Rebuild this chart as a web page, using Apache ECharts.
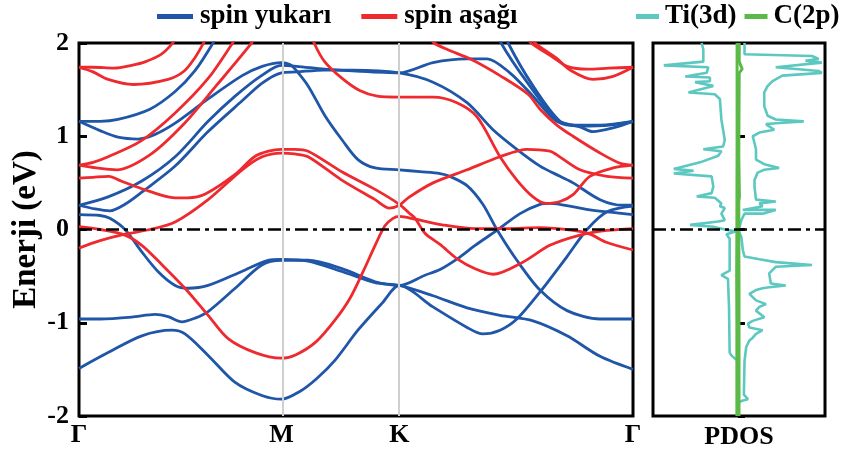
<!DOCTYPE html>
<html><head><meta charset="utf-8">
<script src="https://cdn.jsdelivr.net/npm/echarts@6/dist/echarts.min.js"></script>
<style>html,body{margin:0;padding:0;background:#fff}#c{width:841px;height:451px}</style>
</head><body><div id="c"></div>
<script>
// k-path positions (units of 2π/a) and labels
const kTicks = [0, 0.577, 0.913, 1.579];
const kLabels = ['Γ', 'M', 'K', 'Γ'];

// spin up (blue) bands: [k, E(eV)]
const upA = [[0,1.16],[0.06,1.16],[0.111,1.18],[0.202,1.29],[0.274,1.48],[0.330,1.70],[0.382,2.0],[0.40,2.14]];
const upB = [[0,1.16],[0.060,1.06],[0.111,0.99],[0.168,0.97],[0.217,1.02],[0.274,1.14],[0.368,1.40],[0.465,1.65],[0.522,1.75],[0.577,1.79],[0.601,1.77],[0.616,1.72],[0.653,1.54],[0.701,1.22],[0.750,0.96],[0.795,0.75],[0.844,0.66],[0.913,0.64],[0.972,0.62],[1.029,0.60],[1.057,0.57],[1.106,0.47],[1.151,0.27],[1.191,0.0],[1.248,-0.33],[1.314,-0.65],[1.391,-0.87],[1.485,-0.96],[1.579,-0.96]];
const upC = [[0,0.26],[0.083,0.35],[0.179,0.52],[0.274,0.78],[0.368,1.16],[0.445,1.43],[0.520,1.65],[0.577,1.76],[0.62,1.75],[0.70,1.72],[0.78,1.70],[0.913,1.68],[1.009,1.79],[1.106,1.83],[1.163,1.83],[1.228,1.68],[1.294,1.43],[1.362,1.16],[1.428,1.11],[1.513,1.12],[1.579,1.16]];
const upD = [[0,0.26],[0.046,0.22],[0.088,0.20],[0.131,0.27],[0.179,0.40],[0.274,0.68],[0.368,1.05],[0.465,1.38],[0.522,1.57],[0.577,1.68],[0.62,1.69],[0.70,1.71],[0.78,1.71],[0.913,1.68],[1.009,1.58],[1.106,1.36],[1.180,1.07],[1.248,0.86],[1.314,0.68],[1.371,0.57],[1.408,0.50],[1.485,0.32],[1.550,0.26],[1.579,0.26]];
const upE = [[0,0.16],[0.060,0.15],[0.088,0.12],[0.131,0.0],[0.179,-0.24],[0.225,-0.45],[0.274,-0.60],[0.311,-0.63],[0.368,-0.60],[0.464,-0.45],[0.539,-0.33],[0.577,-0.32],[0.653,-0.34],[0.749,-0.45],[0.844,-0.57],[0.913,-0.60],[1.009,-0.71],[1.106,-0.84],[1.200,-0.92],[1.294,-0.98],[1.391,-1.14],[1.485,-1.36],[1.579,-1.50]];
const upF = [[0,-0.96],[0.060,-0.96],[0.150,-0.94],[0.217,-0.91],[0.254,-0.935],[0.293,-0.99],[0.331,-0.95],[0.368,-0.88],[0.445,-0.63],[0.521,-0.38],[0.577,-0.33],[0.653,-0.33],[0.749,-0.42],[0.844,-0.56],[0.913,-0.60],[0.986,-0.49],[1.029,-0.43],[1.080,-0.31],[1.129,-0.17],[1.191,-0.01],[1.257,0.17],[1.314,0.27],[1.342,0.28],[1.414,0.24],[1.456,0.21],[1.579,0.16]];
const upG = [[0,-1.49],[0.083,-1.32],[0.179,-1.14],[0.265,-1.08],[0.302,-1.12],[0.368,-1.35],[0.445,-1.64],[0.521,-1.78],[0.577,-1.82],[0.628,-1.74],[0.677,-1.60],[0.730,-1.40],[0.795,-1.08],[0.864,-0.79],[0.913,-0.60],[1.009,-0.83],[1.106,-1.05],[1.151,-1.12],[1.200,-1.08],[1.248,-0.96],[1.314,-0.67],[1.391,-0.29],[1.448,0.0],[1.505,0.19],[1.579,0.25]];
const upH = [[1.195,2.12],[1.203,2.0],[1.277,1.58],[1.362,1.18],[1.414,1.12],[1.485,1.12],[1.579,1.16]];
const upI = [[1.215,2.12],[1.223,2.0],[1.294,1.54],[1.371,1.16],[1.428,1.10],[1.465,1.05],[1.522,1.09],[1.579,1.16]];

// spin down (red) bands: [k, E(eV)]
const dnA = [[0,1.74],[0.04,1.74],[0.10,1.73],[0.15,1.76],[0.19,1.80],[0.235,1.88],[0.265,1.99],[0.28,2.08]];
const dnB = [[0,1.74],[0.04,1.69],[0.083,1.61],[0.155,1.555],[0.254,1.61],[0.30,1.70],[0.33,1.84],[0.355,2.0],[0.365,2.08]];
const dnC = [[0,0.69],[0.04,0.72],[0.083,0.78],[0.177,0.95],[0.274,1.25],[0.368,1.62],[0.436,1.99],[0.45,2.08]];
const dnD = [[0,0.69],[0.05,0.66],[0.108,0.64],[0.202,0.80],[0.296,1.12],[0.393,1.55],[0.490,1.99],[0.50,2.06]];
const dnE = [[0,0.55],[0.04,0.56],[0.085,0.57],[0.12,0.52],[0.177,0.44],[0.274,0.34],[0.31,0.34],[0.36,0.38],[0.445,0.59],[0.50,0.78],[0.54,0.84],[0.577,0.86],[0.615,0.86],[0.653,0.84],[0.749,0.62],[0.844,0.43],[0.913,0.27],[0.94,0.18],[0.958,0.12],[0.986,-0.04],[1.029,-0.16],[1.080,-0.32],[1.129,-0.42],[1.180,-0.48],[1.265,-0.35],[1.342,-0.17],[1.428,-0.06],[1.505,-0.01],[1.579,0.01]];
const dnF = [[0,-0.20],[0.060,-0.12],[0.131,-0.05],[0.202,0.0],[0.274,0.08],[0.368,0.32],[0.465,0.64],[0.522,0.78],[0.577,0.82],[0.615,0.81],[0.653,0.78],[0.749,0.53],[0.844,0.32],[0.885,0.23],[0.913,0.26],[0.938,0.34],[1.009,0.50],[1.106,0.64],[1.200,0.78],[1.277,0.86],[1.342,0.84],[1.362,0.80],[1.428,0.64],[1.505,0.57],[1.579,0.55]];
const dnG = [[0,0.03],[0.060,0.0],[0.131,-0.06],[0.179,-0.17],[0.237,-0.38],[0.302,-0.63],[0.368,-0.92],[0.425,-1.17],[0.502,-1.32],[0.577,-1.38],[0.62,-1.34],[0.677,-1.20],[0.73,-0.97],[0.772,-0.74],[0.81,-0.45],[0.844,-0.17],[0.872,0.04],[0.895,0.12],[0.913,0.14],[0.958,0.11],[1.035,0.05],[1.129,0.01],[1.220,0.01],[1.314,0.02],[1.408,-0.01],[1.456,-0.05],[1.505,-0.14],[1.579,-0.22]];
const dnH = [[0.665,2.08],[0.670,2.0],[0.70,1.80],[0.75,1.62],[0.80,1.49],[0.85,1.43],[0.913,1.42],[0.958,1.42],[1.009,1.42],[1.077,1.36],[1.134,1.21],[1.200,0.78],[1.248,0.53],[1.294,0.35],[1.331,0.28],[1.371,0.30],[1.410,0.38],[1.456,0.57],[1.522,0.66],[1.579,0.69]];
const dnI = [[1.00,2.06],[1.012,2.0],[1.05,1.93],[1.12,1.82],[1.20,1.65],[1.28,1.45],[1.314,1.29],[1.362,1.12],[1.408,1.00],[1.485,0.82],[1.542,0.71],[1.579,0.69]];
const dnJ = [[1.28,2.06],[1.288,2.0],[1.35,1.85],[1.391,1.75],[1.45,1.72],[1.51,1.73],[1.579,1.74]];
const dnK = [[1.29,2.08],[1.30,2.0],[1.36,1.84],[1.40,1.71],[1.465,1.61],[1.52,1.64],[1.579,1.74]];

// PDOS: [states (arb.), E(eV)]; spin up to the right, spin down to the left
const tiUp = [[0.31,2.00],[0.31,1.88],[3.49,1.86],[3.80,1.83],[3.18,1.81],[3.95,1.79],[1.78,1.74],[3.80,1.70],[3.95,1.68],[2.09,1.65],[1.63,1.59],[1.40,1.54],[1.24,1.47],[1.24,1.32],[1.40,1.22],[1.78,1.18],[3.10,1.16],[1.78,1.14],[1.32,1.13],[1.71,1.07],[1.01,1.04],[0.70,1.00],[0.85,0.86],[0.85,0.75],[1.24,0.70],[1.94,0.66],[1.24,0.64],[0.93,0.61],[0.78,0.53],[0.78,0.46],[0.85,0.32],[1.78,0.30],[1.01,0.28],[1.16,0.25],[0.23,0.21],[1.78,0.21],[1.16,0.17],[0.31,0.17],[0.16,0.10],[0.08,0.03],[0.0,0.0],[0.16,-0.08],[0.23,-0.22],[0.31,-0.29],[1.01,-0.32],[1.78,-0.35],[3.49,-0.38],[1.78,-0.40],[1.47,-0.47],[1.55,-0.58],[2.25,-0.60],[1.47,-0.62],[1.16,-0.63],[0.85,-0.65],[0.54,-0.69],[0.85,-0.76],[1.32,-0.80],[1.01,-0.83],[0.85,-0.87],[1.24,-0.94],[0.70,-0.98],[0.47,-1.01],[0.54,-1.05],[1.16,-1.08],[0.85,-1.12],[0.70,-1.16],[0.54,-1.19],[0.39,-1.26],[0.31,-1.41],[0.28,-1.77],[0.47,-1.82],[0.16,-1.84],[0,-1.86],[0,-2.0]];
const tiDown = [[-1.71,2.00],[-1.63,1.93],[-1.63,1.80],[-3.49,1.76],[-1.40,1.74],[-1.47,1.68],[-2.48,1.64],[-1.32,1.63],[-1.32,1.59],[-2.02,1.58],[-1.16,1.54],[-2.33,1.47],[-1.09,1.45],[-0.85,1.40],[-0.78,1.18],[-0.62,0.96],[-0.70,0.89],[-1.63,0.86],[-0.78,0.84],[-0.93,0.79],[-1.78,0.72],[-3.02,0.65],[-2.09,0.63],[-3.02,0.60],[-1.24,0.57],[-1.16,0.46],[-1.24,0.39],[-1.94,0.355],[-1.09,0.34],[-0.78,0.28],[-0.85,0.25],[-0.62,0.23],[-0.78,0.17],[-0.62,0.10],[-0.93,0.085],[-2.25,0.05],[-1.16,0.03],[-0.62,0.00],[-0.08,-0.02],[-0.54,-0.05],[-0.39,-0.10],[-0.39,-0.44],[-0.78,-0.49],[-0.47,-0.53],[-0.42,-0.83],[-0.39,-1.32],[-0.31,-1.35],[-0.11,-1.39],[0,-1.40],[0,-2.0]];
const c2pUp = [[0.06,2.0],[0.06,1.80],[0.20,1.72],[0.06,1.68],[0.05,1.30],[0.04,0.80],[0.07,0.35],[0.04,0.30],[0.04,0.0],[0.05,-0.60],[0.05,-2.0]];
const c2pDown = [[-0.04,2.0],[-0.04,1.0],[-0.05,0.0],[-0.06,-0.50],[-0.05,-1.0],[-0.05,-2.0]];

const BLUE = '#1f56a8', RED = '#ee2a2f', CYAN = '#5cc8c0', GREEN = '#5bb947';
const FONT = '"Liberation Serif","Times New Roman",serif';
const upBands = [upA, upB, upC, upD, upE, upF, upG, upH, upI];
const dnBands = [dnA, dnB, dnC, dnD, dnE, dnF, dnG, dnH, dnI, dnJ, dnK];

function band(name, color, data, z) {
  return {type:'line', name, data, xAxisIndex:0, yAxisIndex:0, smooth:0.3, symbol:'none',
    lineStyle:{color, width:2.8}, itemStyle:{color}, z, silent:true};
}
function pd(name, color, data, z, w) {
  return {type:'line', name, data, xAxisIndex:1, yAxisIndex:1, smooth:false, symbol:'none',
    lineStyle:{color, width:w}, itemStyle:{color}, z, silent:true};
}
function zeroLine(ax) {
  return {type:'line', data:[], xAxisIndex:ax, yAxisIndex:ax, z:10, silent:true,
    markLine:{silent:true, symbol:'none', label:{show:false}, animation:false, emphasis:{disabled:true},
      lineStyle:{color:'#000', width:2.6, type:[13,5,4,5]}, data:[{yAxis:0}]}};
}

const series = [];
series.push({type:'line', data:[], xAxisIndex:0, yAxisIndex:0, z:1, silent:true,
  markLine:{silent:true, symbol:'none', label:{show:false}, animation:false, emphasis:{disabled:true},
    lineStyle:{color:'#cfcfcf', width:2, type:'solid'}, data:[{xAxis:kTicks[1]},{xAxis:kTicks[2]}]}});
upBands.forEach(d => series.push(band('spin yukarı', BLUE, d, 3)));
dnBands.forEach(d => series.push(band('spin aşağı', RED, d, 4)));
series.push(zeroLine(0));
series.push(pd('Ti(3d)', CYAN, tiUp, 3, 2.6));
series.push(pd('Ti(3d)', CYAN, tiDown, 3, 2.6));
series.push(pd('C(2p)', GREEN, c2pUp, 4, 3));
series.push(pd('C(2p)', GREEN, c2pDown, 4, 3));
series.push(zeroLine(1));

const txt = {fontFamily:FONT, fontWeight:'bold', color:'#000'};
const chart = echarts.init(document.getElementById('c'));
chart.setOption({
  animation:false,
  backgroundColor:'#fff',
  legend:[
    {data:['spin yukarı','spin aşağı'], left:157, top:3, padding:0, itemWidth:36, itemHeight:5, itemGap:30,
      icon:'rect', selectedMode:false, textStyle:Object.assign({fontSize:27, padding:[0,0,0,2]}, txt)},
    {data:['Ti(3d)','C(2p)'], left:636, top:3, width:210, padding:0, itemWidth:23, itemHeight:5, itemGap:8,
      icon:'rect', selectedMode:false, textStyle:Object.assign({fontSize:27, padding:[0,0,0,1]}, txt)}
  ],
  grid:[
    {left:79, right:208, top:43, bottom:35, show:true, borderColor:'#000', borderWidth:3, backgroundColor:'transparent', outerBoundsMode:'none', containLabel:false},
    {left:653, right:16, top:43, bottom:35, show:true, borderColor:'#000', borderWidth:3, backgroundColor:'transparent', outerBoundsMode:'none', containLabel:false}
  ],
  xAxis:[
    {type:'value', gridIndex:0, min:0, max:kTicks[3], axisLine:{show:false}, splitLine:{show:false},
      axisTick:{show:false},
      axisLabel:Object.assign({customValues:kTicks, fontSize:26, margin:6,
        formatter:v => { const i = kTicks.findIndex(t => Math.abs(t - v) < 1e-6); return i >= 0 ? kLabels[i] : ''; }}, txt)},
    {type:'value', gridIndex:1, min:-4, max:4.1, axisLine:{show:false}, splitLine:{show:false},
      axisTick:{show:false}, axisLabel:{show:false},
      name:'PDOS', nameLocation:'middle', nameGap:8, nameMoveOverlap:false, nameTextStyle:Object.assign({fontSize:26, verticalAlign:'top'}, txt)}
  ],
  yAxis:[
    {type:'value', gridIndex:0, min:-2, max:2, interval:1, axisLine:{show:false}, splitLine:{show:false},
      axisTick:{show:true, inside:true, length:8, lineStyle:{color:'#000', width:3}},
      axisLabel:Object.assign({fontSize:26, margin:10}, txt),
      name:'Enerji (eV)', nameLocation:'middle', nameGap:36, nameRotate:90, nameMoveOverlap:false,
      nameTextStyle:Object.assign({fontSize:33}, txt)},
    {type:'value', gridIndex:1, min:-2, max:2, interval:1, axisLine:{show:false}, splitLine:{show:false},
      axisTick:{show:true, inside:true, length:7, lineStyle:{color:'#000', width:3}},
      axisLabel:{show:false}}
  ],
  series
});
</script>
</body></html>
